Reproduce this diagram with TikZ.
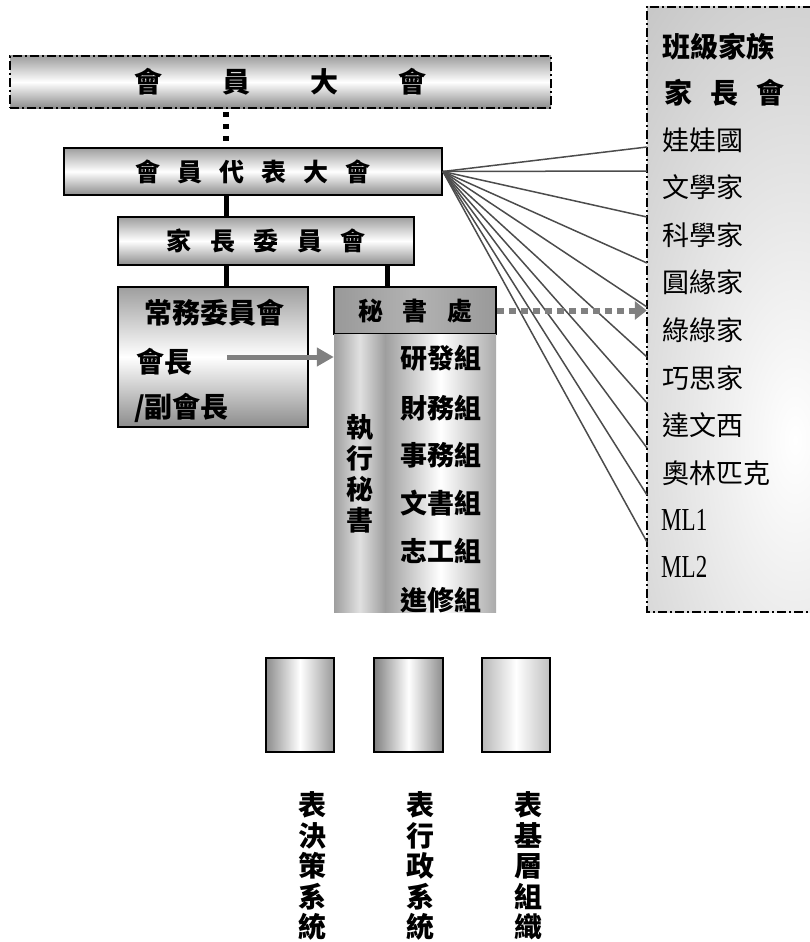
\documentclass[tikz,border=0pt]{standalone}
\usepackage{fontspec}
\newfontfamily\cjk{Noto Sans CJK TC}
\newfontfamily\lat{Liberation Serif}
\usetikzlibrary{arrows.meta}
\tikzset{
  gbox/.style={draw=black, line width=1.8pt, inner sep=0pt,
    top color=black!38, bottom color=black!45, middle color=white},
  ddot/.style={dash pattern=on 9pt off 3pt on 2pt off 3pt},
  conn/.style={draw=black, line width=5pt},
  fan/.style={draw=black!70, line width=1.5pt},
  bt/.style={font=\cjk\bfseries\fontsize{#1}{#1}\selectfont, inner sep=0pt},
  rt/.style={font=\cjk\fontsize{27}{27}\selectfont, inner sep=0pt, anchor=west},
  vt/.style={font=\cjk\bfseries\fontsize{28}{30.5}\selectfont, inner sep=0pt, align=center},
  cbox/.style={draw=black, line width=1.8pt, inner sep=0pt},
}
\begin{document}
\begin{tikzpicture}[x=1pt,y=-1pt]
\useasboundingbox (0,0) rectangle (809,942);

% right box background
\begin{scope}
  \clip (647,7) rectangle (812,612);
  \fill[black!25] (647,7) rectangle (812,612);
  \shade[inner color=white, outer color=black!25] (795,440) ellipse (280 and 620);
\end{scope}
\node[minimum width=165pt, minimum height=605pt, inner sep=0pt] (rb) at (729.5,309.5) {};
\draw[line width=1.8pt, ddot] (rb.north east) -- (rb.north west) -- (rb.south west) -- (rb.south east);

% top box
\node[gbox, ddot, minimum width=541pt, minimum height=52pt] (mem) at (280.5,82)
  {\cjk\bfseries\fontsize{28}{28}\selectfont 會\hspace{60pt}員\hspace{60pt}大\hspace{60pt}會};

% representatives box
\node[gbox, minimum width=378pt, minimum height=47pt] (dbdh) at (253,171.5)
  {\cjk\bfseries\fontsize{25}{25}\selectfont 會\hspace{17pt}員\hspace{17pt}代\hspace{17pt}表\hspace{17pt}大\hspace{17pt}會};

% parents committee
\node[gbox, minimum width=296pt, minimum height=48pt] (jz) at (266,241)
  {\cjk\bfseries\fontsize{25}{25}\selectfont 家\hspace{18.5pt}長\hspace{18.5pt}委\hspace{18.5pt}員\hspace{18.5pt}會};

% standing committee
\node[gbox, minimum width=190pt, minimum height=140pt] (cw) at (213,357) {};
\node[bt=28] (cwt) at (214,313) {常務委員會};
\node[bt=28, anchor=west] (hz) at (136,362) {會長};
\node[bt=28, anchor=west] (fhz) at (134,408) {/副會長};

% secretariat
\node[draw=black, line width=1.8pt, inner sep=0pt,
  left color=black!40, right color=black!40, middle color=black!30,
  minimum width=162pt, minimum height=47pt] (ms) at (415,310.5)
  {\cjk\bfseries\fontsize{25}{25}\selectfont 秘\hspace{19.5pt}書\hspace{19.5pt}處};
\node[inner sep=0pt, minimum width=51pt, minimum height=278pt,
  left color=black!38, right color=black!38, middle color=black!12] (colL) at (359.5,473) {};
\node[inner sep=0pt, minimum width=111pt, minimum height=278pt,
  left color=black!38, right color=black!33, middle color=white] (colR) at (440.5,473) {};
\node[vt, font=\cjk\bfseries\fontsize{27}{31}\selectfont] (zx) at (360,474) {執\\行\\秘\\書};
\node[bt=27] (g1) at (441,358) {研發組};
\node[bt=27] (g2) at (441,408) {財務組};
\node[bt=27] (g3) at (441,455) {事務組};
\node[bt=27] (g4) at (441,503) {文書組};
\node[bt=27] (g5) at (441,551) {志工組};
\node[bt=27] (g6) at (441,600) {進修組};

% connectors
\coordinate (xa) at (226,0);
\coordinate (xb) at (387,0);
\draw[line width=6pt, dash pattern=on 5pt off 7pt, dash phase=-3pt] (mem.south -| xa) -- (dbdh.north -| xa);
\draw[conn] (dbdh.south -| xa) -- (jz.north -| xa);
\draw[conn] (jz.south -| xa) -- (cw.north -| xa);
\draw[conn] (jz.south -| xb) -- (ms.north -| xb);

% arrow from chairman
\coordinate (a0) at (227,357);
\draw[black!50, line width=5pt, -{Triangle[length=17pt, width=18pt]}] (a0) -- (colL.west |- a0);

% fan lines
\foreach \n/\yy in {1/147,2/171,3/217,4/263,5/307,6/357,7/403,8/448,9/495,10/542}{
  \coordinate (f\n) at (647,\yy);
}
\foreach \n in {1,...,10}{ \draw[fan] (dbdh.east) -- (f\n); }

% dashed arrow
\draw[black!50, line width=6pt, dash pattern=on 7pt off 5pt,
  -{Triangle[length=12pt, width=18pt]}] (ms.east) -- (rb.west |- ms.east);

% right list
\node[rt, font=\cjk\bfseries\fontsize{28}{28}\selectfont] (r0) at (662,47) {班級家族};
\node[rt, font=\cjk\bfseries\fontsize{28}{28}\selectfont] (r00) at (664,93) {家\hspace{18pt}長\hspace{18pt}會};
\node[rt] (r1) at (662,140) {娃娃國};
\node[rt] (r2) at (662,187) {文學家};
\node[rt] (r3) at (662,235) {科學家};
\node[rt] (r4) at (662,282) {圓緣家};
\node[rt] (r5) at (662,330) {綠綠家};
\node[rt] (r6) at (662,378) {巧思家};
\node[rt] (r7) at (662,425) {達文西};
\node[rt] (r8) at (662,473) {奧林匹克};
\node[rt] (r9) at (661,520) {\scalebox{0.72}[1]{\lat\fontsize{32}{32}\selectfont ML1}};
\node[rt] (r10) at (661,567) {\scalebox{0.72}[1]{\lat\fontsize{32}{32}\selectfont ML2}};

% legend boxes
\node[cbox, left color=black!45, right color=black!40, middle color=white,
  minimum width=68pt, minimum height=94pt] (b1) at (300,705) {};
\node[cbox, left color=black!50, right color=black!45, middle color=white,
  minimum width=69pt, minimum height=94pt] (b2) at (408.5,705) {};
\node[cbox, left color=black!28, right color=black!25, middle color=white,
  minimum width=68pt, minimum height=94pt] (b3) at (516,705) {};
\node[vt] (l1) at (312,866) {表\\決\\策\\系\\統};
\node[vt] (l2) at (420,866) {表\\行\\政\\系\\統};
\node[vt] (l3) at (528,866) {表\\基\\層\\組\\織};
\end{tikzpicture}
\end{document}
